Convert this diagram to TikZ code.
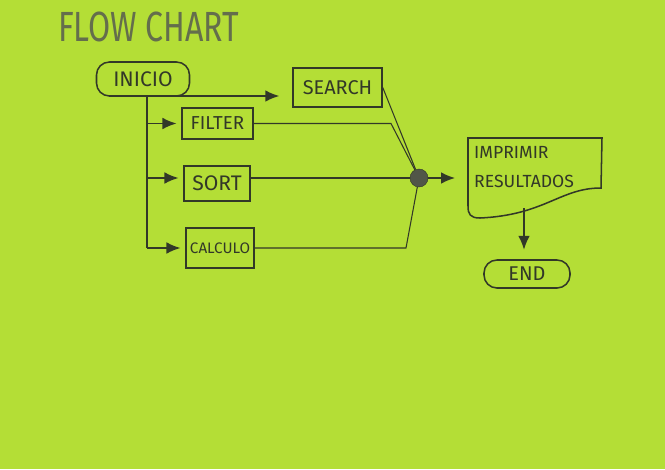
\documentclass[tikz,border=0pt]{standalone}
\usepackage{fontspec}
\setmainfont{Fira Sans}
\usepackage{xcolor}
\usetikzlibrary{arrows.meta}
\definecolor{paper}{RGB}{180,222,54}
\definecolor{ink}{RGB}{50,56,40}
\definecolor{pencil}{RGB}{100,110,76}
\tikzset{
  box/.style={draw=ink,line width=1.3pt,rectangle,inner sep=0pt,text=ink,font=\fontsize{16}{18}\selectfont},
  term/.style={box,rounded corners=11pt},
  wire/.style={draw=ink,line width=0.9pt},
  flow/.style={draw=ink,line width=1.5pt,-{Latex[length=12pt,width=10pt]}}
}

\begin{document}
\begin{tikzpicture}[x=0.03cm,y=-0.03cm]
\fill[paper] (0,0) rectangle (665,469);

\node[anchor=west,text=pencil,font=\fontsize{36}{38}\selectfont] (title) at (54,27) {\scalebox{0.76}[1]{FLOW CHART}};

\node[term,minimum width=2.79cm,minimum height=1.02cm,font=\fontsize{18}{20}\selectfont] (inicio) at (143,79) {INICIO};
\node[box,minimum width=2.67cm,minimum height=1.17cm,font=\fontsize{17}{19}\selectfont] (search) at (337.5,87.5) {SEARCH};
\node[box,minimum width=2.13cm,minimum height=0.93cm] (filter) at (217.5,123.5) {FILTER};
\node[box,minimum width=1.98cm,minimum height=1.05cm,font=\fontsize{18}{20}\selectfont] (sort) at (217,183.5) {SORT};
\node[box,minimum width=2.04cm,minimum height=1.2cm,font=\fontsize{13}{15}\selectfont] (calc) at (220,248) {CALCULO};
\node[circle,fill=ink!85,draw=ink,minimum size=0.54cm,inner sep=0pt] (join) at (419,178) {};
\node[term,minimum width=2.58cm,minimum height=0.84cm,font=\fontsize{17}{19}\selectfont] (fin) at (527,274) {END};
\node[anchor=west,align=left,text=ink,inner sep=0pt,font=\fontsize{15}{25}\selectfont] (print) at (474,167) {IMPRIMIR\\RESULTADOS};

\draw[ink,line width=1.3pt] (468,138) -- (602,138) -- (601,188) .. controls (560,188) and (545,215) .. (480,218) .. controls (470,218) and (468,214) .. (468,206) -- cycle;

\coordinate (trunk) at (147,96);
\coordinate (docin) at (468,178);
\coordinate (docout) at (524,208);
\coordinate (fbend) at (391,123.5);
\coordinate (cbend) at (406,248);

\draw[ink,line width=2.2pt] (trunk) -- (trunk |- calc.west);
\draw[flow,shorten >=11pt] (trunk) -- (trunk -| search.west);
\draw[flow,shorten >=4pt] (trunk |- filter.west) -- (filter.west);
\draw[flow,shorten >=4pt] (trunk |- join) -- (sort.west |- join);
\draw[flow,shorten >=4pt] (trunk |- calc.west) -- (calc.west);

\draw[wire] (search.east) -- (join);
\draw[wire] (filter.east) -- (fbend) -- (join);
\draw[wire] (sort.east |- join) -- (join);
\draw[wire] (calc.east) -- (cbend) -- (join);

\draw[flow,shorten >=11pt] (join) -- (docin);
\draw[flow,shorten >=8pt] (docout) -- (docout |- fin.north);
\end{tikzpicture}
\end{document}
